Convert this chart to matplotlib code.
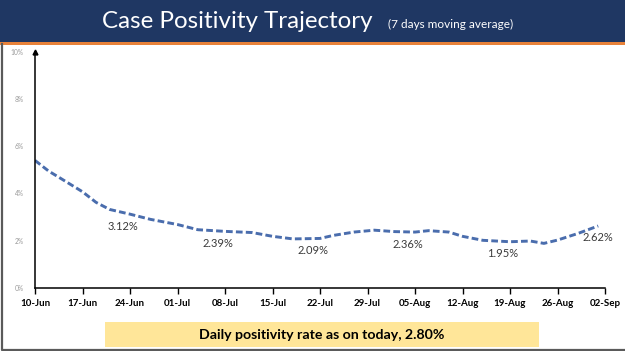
import matplotlib
matplotlib.use("Agg")
import matplotlib.pyplot as plt
import matplotlib.dates as mdates
from matplotlib.patches import Rectangle
import pandas as pd

# ---- data ----
dates = ["2020-06-10", "2020-06-12", "2020-06-14", "2020-06-17", "2020-06-19",
         "2020-06-21", "2020-06-24", "2020-06-27", "2020-07-01", "2020-07-04",
         "2020-07-08", "2020-07-12", "2020-07-15", "2020-07-18", "2020-07-22",
         "2020-07-24", "2020-07-27", "2020-07-30", "2020-08-02", "2020-08-05",
         "2020-08-07", "2020-08-10", "2020-08-12", "2020-08-15", "2020-08-19",
         "2020-08-22", "2020-08-24", "2020-08-26", "2020-08-29", "2020-09-01"]
positivity = [5.40, 4.95, 4.60, 4.07, 3.62, 3.32, 3.12, 2.90, 2.68, 2.46,
              2.39, 2.34, 2.18, 2.07, 2.09, 2.22, 2.36, 2.44, 2.38, 2.36,
              2.42, 2.36, 2.18, 2.01, 1.95, 1.98, 1.88, 2.02, 2.30, 2.62]
label_dates = ["2020-06-24", "2020-07-08", "2020-07-22", "2020-08-05", "2020-08-19", "2020-09-02"]
label_values = [3.12, 2.39, 2.09, 2.36, 1.95, 2.62]
y_ticks = [0, 2, 4, 6, 8, 10]
title = "Case Positivity Trajectory"
subtitle = "(7 days moving average)"
footer = "Daily positivity rate as on today, 2.80%"

x = pd.to_datetime(dates)
lx = pd.to_datetime(label_dates)

fig = plt.figure(figsize=(6.25, 3.51), dpi=100)
fig.patch.set_facecolor("white")

# banner
fig.patches.append(Rectangle((0, 1 - 42 / 351), 1, 42 / 351, transform=fig.transFigure,
                             facecolor="#1F3763", edgecolor="none", zorder=0))
fig.patches.append(Rectangle((0, 1 - 44.5 / 351), 1, 2.5 / 351, transform=fig.transFigure,
                             facecolor="#E8823A", edgecolor="none", zorder=0))
# outer border (left / bottom)
fig.add_artist(plt.Line2D([0.003, 0.003, 0.999], [1 - 44 / 351, 0.004, 0.004],
                          transform=fig.transFigure, color="#5a5a5a", lw=1.6))

fig.text(102 / 625, 1 - 28 / 351, title, color="white", fontsize=17.4,
         family="Lato", va="baseline", ha="left")
fig.text(388 / 625, 1 - 28 / 351, subtitle, color="white", fontsize=8.5,
         family="Lato", va="baseline", ha="left")

ax = fig.add_axes([35 / 625, 1 - 287.7 / 351, 570 / 625, (287.7 - 52) / 351])
ax.plot(x, positivity, color="#4A6DAD", lw=2.1, ls=(0, (2.3, 1.1)),
        solid_capstyle="butt", dash_capstyle="butt")

ax.set_xlim(pd.Timestamp("2020-06-10"), pd.Timestamp("2020-09-02"))
ax.set_ylim(0, 10)
ax.set_yticks(y_ticks)
ax.set_yticklabels([f"{v}%" for v in y_ticks])
ax.set_xticks(pd.date_range("2020-06-10", "2020-09-02", freq="7D"))
ax.xaxis.set_major_formatter(mdates.DateFormatter("%d-%b"))

for s in ["top", "right"]:
    ax.spines[s].set_visible(False)
for s in ["left", "bottom"]:
    ax.spines[s].set_color("black")
    ax.spines[s].set_linewidth(1.1)

ax.tick_params(axis="x", direction="out", length=4, width=1, pad=4,
               labelsize=7, colors="black")
for t in ax.get_xticklabels():
    t.set_fontweight("bold")
    t.set_family("Lato")
ax.tick_params(axis="y", length=0, pad=8, labelsize=4.8, labelcolor="#9a9a9a")
for t in ax.get_yticklabels():
    t.set_family("Lato")

# arrow on the y axis
ax.plot([0], [1], marker="^", color="black", markersize=3.5,
        transform=ax.transAxes, clip_on=False)

for d, v in zip(lx, label_values):
    ax.annotate(f"{v:.2f}%", xy=(d, v), xytext=(-5, -8.6), textcoords="offset points",
                ha="center", va="center", fontsize=8, color="#3a3a3a", family="Lato")

# footer box
fig.patches.append(Rectangle((105 / 625, 1 - 347 / 351), 434 / 625, 25 / 351,
                             transform=fig.transFigure, facecolor="#FFE699",
                             edgecolor="none", zorder=0))
fig.text(322 / 625, 1 - 335 / 351, footer, ha="center", va="center",
         fontsize=10.2, fontweight="bold", family="Lato", color="black")

fig.savefig("out.png", dpi=100)
